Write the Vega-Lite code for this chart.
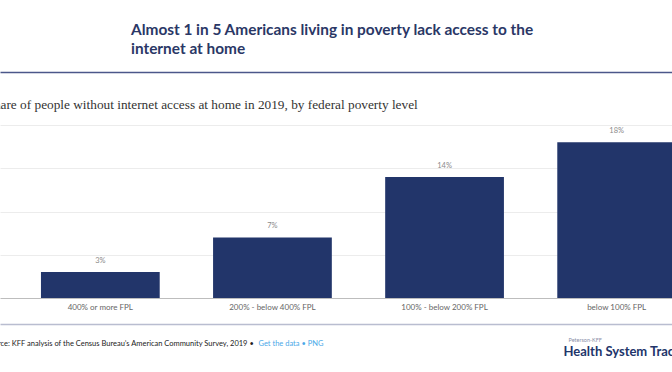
{
  "$schema": "https://vega.github.io/schema/vega-lite/v6.json",
  "width": 717,
  "height": 173,
  "autosize": "none",
  "padding": {"left": 0, "top": 125, "right": 0, "bottom": 74},
  "background": "white",
  "config": {"view": {"stroke": null}, "font": "Lato"},
  "title": {
    "text": ["Almost 1 in 5 Americans living in poverty lack access to the", "internet at home"],
    "anchor": "start",
    "frame": "group",
    "dx": 131,
    "offset": 15,
    "font": "Lato",
    "fontSize": 15.4,
    "fontWeight": "bold",
    "color": "#2a3766",
    "lineHeight": 19
  },
  "data": {
    "values": [
      {"level": "400% or more FPL", "share": 0.03},
      {"level": "200% - below 400% FPL", "share": 0.07},
      {"level": "100% - below 200% FPL", "share": 0.14},
      {"level": "below 100% FPL", "share": 0.18}
    ]
  },
  "layer": [
    {
      "mark": {"type": "bar"},
      "encoding": {
        "x": {
          "field": "level", "type": "nominal", "sort": null,
          "scale": {"paddingInner": 0.31, "paddingOuter": 0.238},
          "axis": {
            "orient": "bottom", "offset": 26, "domainColor": "#b9bdd0", "domainWidth": 1.5,
            "ticks": false, "tickSize": 0, "labelAngle": 0, "labelPadding": -17, "labelBaseline": "middle",
            "labelFont": "Lato", "labelFontSize": 8, "labelColor": "#666666",
            "title": "Source: KFF analysis of the Census Bureau’s American Community Survey, 2019 •",
            "titleX": -15, "titleY": 19, "titleAlign": "left", "titleAnchor": null, "titleBaseline": "middle",
            "titleFont": "Lato", "titleFontSize": 7.5, "titleFontWeight": "normal", "titleColor": "#222222"
          }
        },
        "y": {
          "field": "share", "type": "quantitative", "scale": {"domain": [0, 0.2]},
          "axis": {
            "orient": "left", "domain": false, "ticks": false, "labels": false, "grid": true,
            "values": [0, 0.05, 0.1, 0.15, 0.2],
            "gridColor": {"condition": {"test": "datum.value === 0", "value": "#bdbdbd"}, "value": "#ececec"},
            "gridWidth": 1,
            "title": "Share of people without internet access at home in 2019, by federal poverty level",
            "titleX": -14, "titleY": -17, "titleAngle": 0, "titleAlign": "left", "titleBaseline": "alphabetic", "titleAnchor": null,
            "titleFont": "Liberation Serif", "titleFontSize": 13.3, "titleFontWeight": "normal", "titleColor": "#333333"
          }
        },
        "color": {
          "datum": "Peterson-KFF", "type": "nominal",
          "scale": {"range": ["#22356a"]},
          "legend": {
            "orient": "none", "legendX": 563, "legendY": 212, "title": null, "padding": 0,
            "symbolOpacity": 0, "symbolSize": 0, "symbolStrokeWidth": 0, "labelOffset": 0,
            "labelFont": "Lato", "labelFontSize": 5.5, "labelColor": "#8a8fa8"
          }
        }
      }
    },
    {
      "mark": {"type": "text", "baseline": "middle", "dy": -11, "fontSize": 7.5, "font": "Lato", "color": "#8a8a8a"},
      "encoding": {
        "x": {
          "field": "level", "type": "nominal", "sort": null,
          "scale": {"paddingInner": 0.31, "paddingOuter": 0.238},
          "axis": {
            "orient": "top", "offset": 53, "domainColor": "#4b578a", "domainWidth": 1.5,
            "ticks": false, "labels": false,
            "title": "Get the data • PNG",
            "titleX": 258, "titleY": 271, "titleAlign": "left", "titleAnchor": null, "titleBaseline": "middle",
            "titleFont": "Lato", "titleFontSize": 7.5, "titleFontWeight": "normal", "titleColor": "#49a8e8"
          }
        },
        "y": {
          "field": "share", "type": "quantitative", "scale": {"domain": [0, 0.2]},
          "axis": {
            "orient": "right", "domain": false, "ticks": false, "labels": false, "grid": false,
            "title": "Health System Tracker",
            "titleX": -154, "titleY": 226, "titleAngle": 0, "titleAlign": "left", "titleBaseline": "middle", "titleAnchor": null,
            "titleFont": "Lato", "titleFontSize": 13, "titleFontWeight": "bold", "titleColor": "#22356a"
          }
        },
        "text": {"field": "share", "type": "quantitative", "format": ".0%"}
      }
    }
  ],
  "resolve": {"axis": {"x": "independent", "y": "independent"}}
}
